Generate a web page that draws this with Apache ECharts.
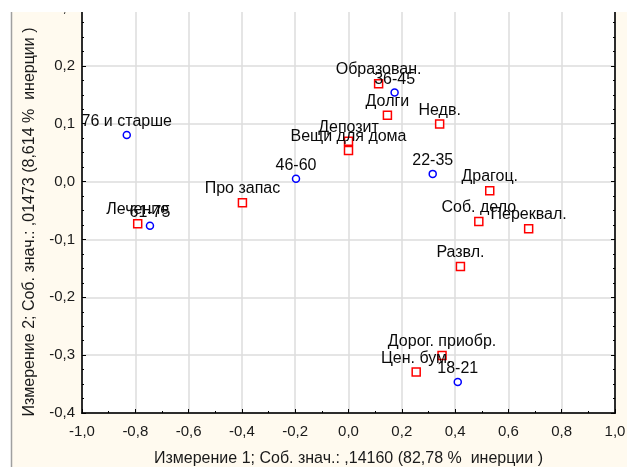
<!DOCTYPE html>
<html><head><meta charset="utf-8">
<script src="https://cdn.jsdelivr.net/npm/echarts@6/dist/echarts.min.js"></script>
<style>html,body{margin:0;padding:0;background:#fff}#c{width:627px;height:467px}</style>
</head><body><div id="c"></div>
<script>
var ageLabels = ['76 и старше','61-75','46-60','36-45','22-35','18-21'];
var ageX = [-0.832,-0.745,-0.197,0.173,0.316,0.410];
var ageY = [0.0805,-0.0764,0.0047,0.154,0.0133,-0.3466];

var itemLabels = ['Лечение','Про запас','Депозит','Вещи для дома','Образован.','Долги','Недв.','Драгоц.','Соб. дело','Переквал.','Развл.','Цен. бум.','Дорог. приобр.'];
var itemX = [-0.791,-0.398,0.0,0.0,0.113,0.146,0.342,0.530,0.489,0.676,0.420,0.254,0.351];
var itemY = [-0.073,-0.0367,0.0697,0.0535,0.169,0.1145,0.0995,-0.016,-0.069,-0.0816,-0.1466,-0.329,-0.3005];

var xTitle = 'Измерение 1; Соб. знач.: ,14160 (82,78 %  инерции )';
var yTitle = 'Измерение 2; Соб. знач.: ,01473 (8,614 %  инерции )';

function fmt(v){ return v.toFixed(1).replace('.', ','); }
function pts(xs, ys, ls){ return xs.map(function(x,i){ return {value:[x, ys[i]], name: ls[i]}; }); }

var FONT = 'Liberation Sans, Arial, sans-serif';
var chart = echarts.init(document.getElementById('c'), null, {renderer:'canvas'});
var axisCommon = {
  type:'value',
  axisLine:{show:true, onZero:false, lineStyle:{color:'#000', width:1.5}},
  axisTick:{show:true, inside:true, length:4, lineStyle:{color:'#000', width:1}},
  minorTick:{show:true, length:2, lineStyle:{color:'#000', width:1}},
  minorSplitLine:{show:false}
};
chart.setOption({
  backgroundColor:'#fffaef',
  animation:false,
  grid:{left:82, right:12, top:8, bottom:54, containLabel:false, outerBoundsMode:'none',
        show:true, backgroundColor:'#fff', borderColor:'#000', borderWidth:1.5},
  xAxis:[
    Object.assign({}, axisCommon, {
      position:'bottom', min:-1, max:1, interval:0.2,
      minorTick:Object.assign({}, axisCommon.minorTick, {splitNumber:2}),
      splitLine:{show:true, lineStyle:{color:'#dcdcdc', width:1.5}},
      axisLabel:{formatter:fmt, color:'#1a1a1a', fontSize:15, fontFamily:FONT, margin:11},
      name:xTitle, nameLocation:'middle', nameGap:38,
      nameTextStyle:{color:'#1a1a1a', fontSize:16, fontFamily:FONT}
    }),
    Object.assign({}, axisCommon, {
      position:'top', min:-1, max:1, interval:0.2,
      minorTick:Object.assign({}, axisCommon.minorTick, {splitNumber:2}),
      splitLine:{show:false}, axisLabel:{show:false}
    })
  ],
  yAxis:[
    Object.assign({}, axisCommon, {
      position:'left', min:-0.4, max:0.3, interval:0.1,
      minorTick:Object.assign({}, axisCommon.minorTick, {splitNumber:4}),
      splitLine:{show:true, lineStyle:{color:'#dcdcdc', width:1.5}},
      axisLabel:{formatter:fmt, color:'#1a1a1a', fontSize:15, fontFamily:FONT, margin:7},
      name:yTitle, nameLocation:'middle', nameGap:44,
      nameTextStyle:{color:'#1a1a1a', fontSize:16, fontFamily:FONT, padding:[0,23,0,0]}
    }),
    Object.assign({}, axisCommon, {
      position:'right', min:-0.4, max:0.3, interval:0.1,
      minorTick:Object.assign({}, axisCommon.minorTick, {splitNumber:4}),
      splitLine:{show:false}, axisLabel:{show:false}
    })
  ],
  series:[
    {
      name:'Строки', type:'scatter', xAxisIndex:0, yAxisIndex:0,
      symbol:'circle', symbolSize:7,
      itemStyle:{color:'#fff', borderColor:'#0000ff', borderWidth:1.5, opacity:1},
      label:{show:true, position:'top', distance:1, formatter:'{b}', color:'#0a0a0a', fontSize:16, fontFamily:FONT},
      data:pts(ageX, ageY, ageLabels), z:3
    },
    {
      name:'Столбцы', type:'scatter', xAxisIndex:0, yAxisIndex:0,
      symbol:'rect', symbolSize:8,
      itemStyle:{color:'#fff', borderColor:'#ff0000', borderWidth:1.5, opacity:1},
      label:{show:true, position:'top', distance:1, formatter:'{b}', color:'#0a0a0a', fontSize:16, fontFamily:FONT},
      data:pts(itemX, itemY, itemLabels), z:2
    }
  ],
  graphic:[
    {type:'rect', left:0, top:0, shape:{width:627, height:12}, style:{fill:'#fff'}, z:100, silent:true},
    {type:'rect', left:0, top:0, shape:{width:11, height:467}, style:{fill:'#fff'}, z:100, silent:true},
    {type:'line', shape:{x1:11.5, y1:12, x2:11.5, y2:467}, style:{stroke:'#a0a0a0', lineWidth:1.5}, z:101, silent:true}
  ]
});
</script></body></html>
